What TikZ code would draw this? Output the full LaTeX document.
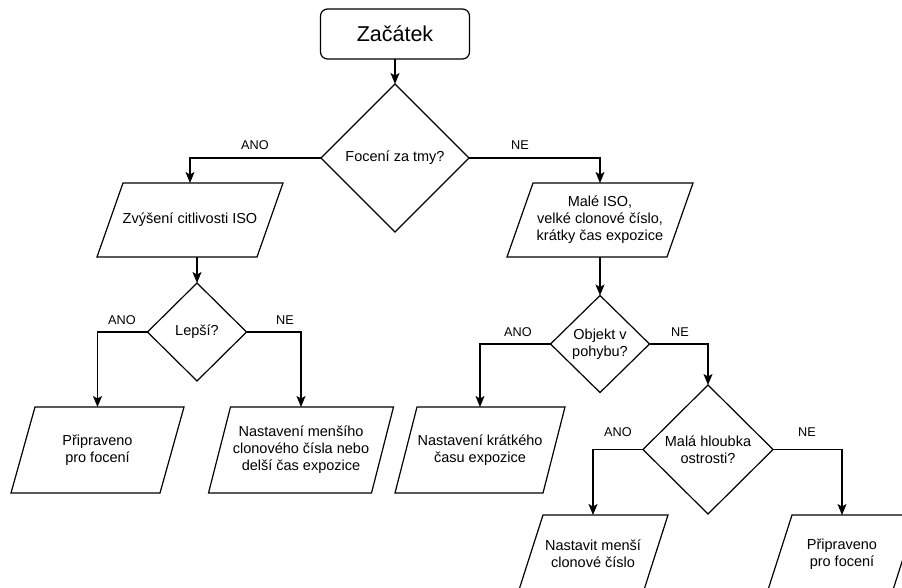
\documentclass[tikz,border=0pt]{standalone}
\usepackage{fontspec}
\setmainfont{Liberation Sans}
\usetikzlibrary{shapes.geometric,arrows.meta}
\begin{document}
\begin{tikzpicture}[x=1pt,y=-1pt,
  base/.style={draw=black, line width=1.2pt, inner sep=0pt, outer sep=0pt,
    align=center, font=\fontsize{14.5}{17}\selectfont},
  startbox/.style={base, rectangle, rounded corners=7pt, minimum width=149pt,
    minimum height=50pt, font=\fontsize{21.5}{24}\selectfont},
  decision/.style={base, diamond},
  para/.style 2 args={base, draw=none, rectangle, minimum width=#1,
    append after command={\pgfextra{\draw[line width=1.2pt, line join=miter]
      ([xshift=#2]\tikzlastnode.north west) -- (\tikzlastnode.north east)
      -- ([xshift=-#2]\tikzlastnode.south east) -- (\tikzlastnode.south west) -- cycle;}}},
  conn/.style={line width=1.2pt, -{Stealth[length=11pt,width=9pt,inset=2.5pt]}},
  lbl/.style={inner sep=0pt, font=\fontsize{12.7}{15}\selectfont}]
\useasboundingbox (0,0) rectangle (902,588);
\fill[white] (0,0) rectangle (902,588);
\clip (0,0) rectangle (902,588);

\node[startbox] (start) at (395,34) {Začátek};
\node[decision, minimum width=148pt, minimum height=148pt] (d1) at (395,158) {Focení za tmy?};
\node[para={186pt}{26pt}, minimum height=74pt] (p1) at (190,220) {Zvýšení citlivosti ISO};
\node[para={186pt}{26pt}, minimum height=74pt] (p2) at (600,220) {Malé ISO,\\velké clonové číslo,\\krátky čas expozice};
\node[decision, minimum width=99pt, minimum height=98pt] (d2) at (197,332) {Lepší?};
\node[decision, minimum width=99pt, minimum height=97pt] (d3) at (600,344) {Objekt v\\pohybu?};
\node[para={173pt}{24pt}, minimum height=86pt] (p3) at (97.5,450) {Připraveno\\pro focení};
\node[para={185pt}{22pt}, minimum height=86pt] (p4) at (301,450) {Nastavení menšího\\clonového čísla nebo\\delší čas expozice};
\node[para={170pt}{22pt}, minimum height=86pt] (p5) at (480,450) {Nastavení krátkého\\času expozice};
\node[decision, minimum width=130pt, minimum height=129pt] (d4) at (708,449.5) {Malá hloubka\\ostrosti?};
\node[para={150pt}{25pt}, minimum height=78pt] (p6) at (593,554) {Nastavit menší\\clonové číslo};
\node[para={150pt}{25pt}, minimum height=78pt] (p7) at (842,554) {Připraveno\\pro focení};

\draw[conn] (start.south) -- (d1.north);
\draw[conn] (d1.west) -| (p1.north);
\draw[conn] (d1.east) -| (p2.north);
\draw[conn] (p1.south -| d2.north) -- (d2.north);
\draw[conn] (p2.south) -- (d3.north);
\draw[conn] (d2.west) -| (p3.north);
\draw[conn] (d2.east) -| (p4.north);
\draw[conn] (d3.west) -| (p5.north);
\draw[conn] (d3.east) -| (d4.north);
\draw[conn] (d4.west) -| (p6.north);
\draw[conn] (d4.east) -| (p7.north);

\node[lbl] (l1) at (255,145) {ANO};
\node[lbl] (l2) at (520,145) {NE};
\node[lbl] (l3) at (122,320) {ANO};
\node[lbl] (l4) at (285,320) {NE};
\node[lbl] (l5) at (518,332) {ANO};
\node[lbl] (l6) at (680,332) {NE};
\node[lbl] (l7) at (618,432) {ANO};
\node[lbl] (l8) at (807,432) {NE};
\end{tikzpicture}
\end{document}
